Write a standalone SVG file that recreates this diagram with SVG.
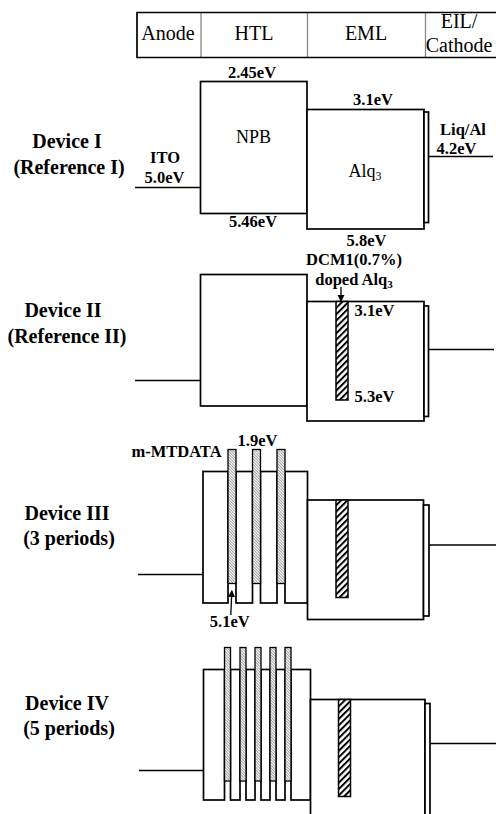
<svg xmlns="http://www.w3.org/2000/svg" width="496" height="814" viewBox="0 0 496 814">
<style>
.ln{fill:none;stroke:#000;stroke-width:1.7}
.bx{fill:#fff;stroke:#000;stroke-width:1.7}
.dcm{fill:url(#hatchD);stroke:#000;stroke-width:1.5}
.mt{fill:url(#hatchM);stroke:#000;stroke-width:1.3}
.hd{font-family:"Liberation Serif","Times New Roman",serif;font-size:20px;fill:#000}
.dv{font-family:"Liberation Serif","Times New Roman",serif;font-size:20px;font-weight:bold;fill:#000}
.ev{font-family:"Liberation Serif","Times New Roman",serif;font-size:16.5px;font-weight:bold;fill:#000}
.mat{font-family:"Liberation Serif","Times New Roman",serif;font-size:18px;fill:#000}
</style>
<defs>
<pattern id="hatchD" patternUnits="userSpaceOnUse" width="4.5" height="4.5" patternTransform="rotate(45)">
<rect width="4.5" height="4.5" fill="#fff"/>
<line x1="1" y1="0" x2="1" y2="4.5" stroke="#000" stroke-width="2"/>
</pattern>
<pattern id="hatchM" patternUnits="userSpaceOnUse" width="2" height="2" patternTransform="rotate(-45)">
<rect width="2" height="2" fill="#fff"/>
<line x1="0" y1="0" x2="0" y2="2" stroke="#333" stroke-width="0.9"/>
</pattern>
<marker id="ah" markerWidth="8" markerHeight="8" refX="6" refY="4" orient="auto" markerUnits="userSpaceOnUse">
<path d="M0,0.5 L7,4 L0,7.5 Z" fill="#000"/>
</marker>
</defs>

<g id="header">
<line x1="201" y1="12.5" x2="201" y2="57.5" stroke="#888" stroke-width="1.3"/>
<line x1="307.5" y1="12.5" x2="307.5" y2="57.5" stroke="#888" stroke-width="1.3"/>
<line x1="425.5" y1="12.5" x2="425.5" y2="57.5" stroke="#888" stroke-width="1.3"/>
<path class="ln" d="M496,12.5 H137 V57.5 H496" stroke-width="1.4"/>
<text class="hd" x="168" y="40" text-anchor="middle">Anode</text>
<text class="hd" x="254" y="40" text-anchor="middle">HTL</text>
<text class="hd" x="366" y="40" text-anchor="middle">EML</text>
<text class="hd" x="459" y="28" text-anchor="middle" font-size="18">EIL/</text>
<text class="hd" x="459" y="52" text-anchor="middle" font-size="18">Cathode</text>
</g>

<g id="device1">
<text class="dv" x="67" y="148" text-anchor="middle">Device I</text>
<text class="dv" x="69" y="174" text-anchor="middle">(Reference I)</text>
<g id="d1-ito"><line class="ln" x1="135" y1="187.5" x2="200.5" y2="187.5"/>
<text class="ev" x="165" y="163" text-anchor="middle">ITO</text>
<text class="ev" x="164.5" y="182.5" text-anchor="middle">5.0eV</text></g>
<g id="d1-npb"><rect class="bx" x="200.5" y="81.5" width="106.5" height="132"/>
<text class="mat" x="253.5" y="143" text-anchor="middle">NPB</text>
<text class="ev" x="252" y="78" text-anchor="middle">2.45eV</text>
<text class="ev" x="253" y="226.5" text-anchor="middle">5.46eV</text></g>
<g id="d1-alq3"><rect class="bx" x="307" y="109.5" width="117" height="119.5"/>
<text class="mat" x="365" y="176.5" text-anchor="middle">Alq<tspan font-size="12" dy="3">3</tspan></text>
<text class="ev" x="373" y="105" text-anchor="middle">3.1eV</text>
<text class="ev" x="366.5" y="246" text-anchor="middle">5.8eV</text></g>
<g id="d1-eil"><rect class="bx" x="424" y="112" width="4.5" height="110.5"/></g>
<g id="d1-cathode"><line class="ln" x1="428.5" y1="156.5" x2="493" y2="156.5"/>
<text class="ev" x="463" y="135" text-anchor="middle">Liq/Al</text>
<text class="ev" x="456.5" y="154" text-anchor="middle">4.2eV</text></g>
</g>

<g id="device2">
<text class="dv" x="63" y="317" text-anchor="middle">Device II</text>
<text class="dv" x="67" y="343" text-anchor="middle">(Reference II)</text>
<g id="d2-ito"><line class="ln" x1="135" y1="380.5" x2="200.5" y2="380.5"/></g>
<g id="d2-npb"><rect class="bx" x="200.5" y="274.5" width="106.5" height="131.5"/></g>
<g id="d2-alq3"><rect class="bx" x="307" y="301.5" width="117" height="119.5"/></g>
<g id="d2-dcm"><rect class="dcm" x="336" y="301.5" width="12" height="98.5"/>
<text class="ev" x="354" y="265" text-anchor="middle">DCM1(0.7%)</text>
<text class="ev" x="354" y="285" text-anchor="middle">doped Alq<tspan font-size="11" dy="3">3</tspan></text>
<text class="ev" x="374.5" y="316" text-anchor="middle">3.1eV</text>
<text class="ev" x="374.5" y="401.5" text-anchor="middle">5.3eV</text></g>
<g id="d2-eil"><rect class="bx" x="424" y="306" width="4.5" height="110.5"/></g>
<g id="d2-cathode"><line class="ln" x1="428.5" y1="349.5" x2="494" y2="349.5"/></g>
</g>

<g id="device3">
<text class="dv" x="67" y="520" text-anchor="middle">Device III</text>
<text class="dv" x="69" y="545" text-anchor="middle">(3 periods)</text>
<g id="d3-ito"><line class="ln" x1="138" y1="574.5" x2="203" y2="574.5"/></g>
<g id="d3-npb">
<rect class="bx" x="203" y="471.5" width="25" height="131.5"/>
<rect class="bx" x="236" y="471.5" width="16.5" height="131.5"/>
<rect class="bx" x="260.5" y="471.5" width="16.5" height="131.5"/>
<rect class="bx" x="285" y="471.5" width="22.5" height="131.5"/>
</g>
<g id="d3-mtdata">
<rect class="mt" x="228" y="449.5" width="8" height="134"/>
<rect class="mt" x="252.5" y="449.5" width="8" height="134"/>
<rect class="mt" x="277" y="449.5" width="8" height="134"/>
<text class="ev" x="176.5" y="456.5" text-anchor="middle">m-MTDATA</text>
<text class="ev" x="257.5" y="446" text-anchor="middle">1.9eV</text>
<text class="ev" x="229.7" y="626.5" text-anchor="middle">5.1eV</text>
</g>
<g id="d3-alq3"><rect class="bx" x="307.5" y="500" width="116" height="119.5"/></g>
<g id="d3-dcm"><rect class="dcm" x="336" y="500" width="12" height="97.5"/></g>
<g id="d3-eil"><rect class="bx" x="423.5" y="505" width="5.5" height="111"/></g>
<g id="d3-cathode"><line class="ln" x1="429" y1="545" x2="496" y2="545"/></g>
</g>

<g id="device4">
<text class="dv" x="67" y="710" text-anchor="middle">Device IV</text>
<text class="dv" x="69" y="735" text-anchor="middle">(5 periods)</text>
<g id="d4-ito"><line class="ln" x1="139" y1="770.5" x2="203.5" y2="770.5"/></g>
<g id="d4-npb">
<rect class="bx" x="203.5" y="669.5" width="21" height="130.5"/>
<rect class="bx" x="230.5" y="669.5" width="9.5" height="130.5"/>
<rect class="bx" x="246" y="669.5" width="9" height="130.5"/>
<rect class="bx" x="261" y="669.5" width="9" height="130.5"/>
<rect class="bx" x="276" y="669.5" width="9" height="130.5"/>
<rect class="bx" x="291" y="669.5" width="19.5" height="130.5"/>
</g>
<g id="d4-mtdata">
<rect class="mt" x="224.5" y="647.5" width="6" height="133.5"/>
<rect class="mt" x="240" y="647.5" width="6" height="133.5"/>
<rect class="mt" x="255" y="647.5" width="6" height="133.5"/>
<rect class="mt" x="270" y="647.5" width="6" height="133.5"/>
<rect class="mt" x="285" y="647.5" width="6" height="133.5"/>
</g>
<g id="d4-alq3"><rect class="bx" x="310.5" y="699.5" width="114.5" height="140"/></g>
<g id="d4-dcm"><rect class="dcm" x="338.5" y="699.5" width="12" height="97"/></g>
<g id="d4-eil"><rect class="bx" x="425" y="703.5" width="5" height="140"/></g>
<g id="d4-cathode"><line class="ln" x1="430" y1="743.5" x2="496" y2="743.5"/></g>
</g>

<g id="connectors">
<line x1="341" y1="287" x2="341" y2="301" stroke="#000" stroke-width="1.3" marker-end="url(#ah)"/>
<line x1="230.8" y1="615" x2="231.8" y2="591" stroke="#000" stroke-width="1.3" marker-end="url(#ah)"/>
</g>
</svg>
